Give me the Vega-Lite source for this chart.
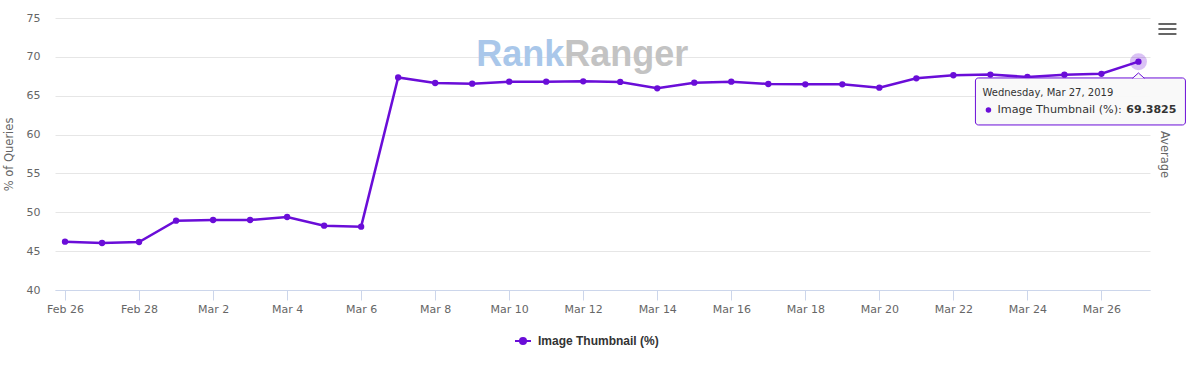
{
  "$schema": "https://vega.github.io/schema/vega-lite/v6.json",
  "width": 1095,
  "height": 272,
  "autosize": {"type": "none"},
  "padding": {"left": 55, "top": 18, "right": 42, "bottom": 78},
  "background": "white",
  "config": {
    "view": {"stroke": null},
    "font": "DejaVu Sans",
    "axisX": {
      "grid": false,
      "domainColor": "#ccd6eb",
      "domainWidth": 1,
      "tickColor": "#ccd6eb",
      "tickSize": 10,
      "labelColor": "#666666",
      "labelFont": "DejaVu Sans",
      "labelFontSize": 11,
      "labelPadding": 3,
      "labelFlush": false,
      "labelOverlap": false
    }
  },
  "datasets": {
    "main": [
      {"date": "2019-02-26T00:00:00", "series": "Image Thumbnail (%)", "value": 46.22},
      {"date": "2019-02-27T00:00:00", "series": "Image Thumbnail (%)", "value": 46.05},
      {"date": "2019-02-28T00:00:00", "series": "Image Thumbnail (%)", "value": 46.18},
      {"date": "2019-03-01T00:00:00", "series": "Image Thumbnail (%)", "value": 48.92},
      {"date": "2019-03-02T00:00:00", "series": "Image Thumbnail (%)", "value": 49.01},
      {"date": "2019-03-03T00:00:00", "series": "Image Thumbnail (%)", "value": 49.01},
      {"date": "2019-03-04T00:00:00", "series": "Image Thumbnail (%)", "value": 49.39},
      {"date": "2019-03-05T00:00:00", "series": "Image Thumbnail (%)", "value": 48.28},
      {"date": "2019-03-06T00:00:00", "series": "Image Thumbnail (%)", "value": 48.15},
      {"date": "2019-03-07T00:00:00", "series": "Image Thumbnail (%)", "value": 67.35},
      {"date": "2019-03-08T00:00:00", "series": "Image Thumbnail (%)", "value": 66.64},
      {"date": "2019-03-09T00:00:00", "series": "Image Thumbnail (%)", "value": 66.55},
      {"date": "2019-03-10T00:00:00", "series": "Image Thumbnail (%)", "value": 66.81},
      {"date": "2019-03-11T00:00:00", "series": "Image Thumbnail (%)", "value": 66.81},
      {"date": "2019-03-12T00:00:00", "series": "Image Thumbnail (%)", "value": 66.85},
      {"date": "2019-03-13T00:00:00", "series": "Image Thumbnail (%)", "value": 66.77},
      {"date": "2019-03-14T00:00:00", "series": "Image Thumbnail (%)", "value": 65.95},
      {"date": "2019-03-15T00:00:00", "series": "Image Thumbnail (%)", "value": 66.68},
      {"date": "2019-03-16T00:00:00", "series": "Image Thumbnail (%)", "value": 66.81},
      {"date": "2019-03-17T00:00:00", "series": "Image Thumbnail (%)", "value": 66.51},
      {"date": "2019-03-18T00:00:00", "series": "Image Thumbnail (%)", "value": 66.47},
      {"date": "2019-03-19T00:00:00", "series": "Image Thumbnail (%)", "value": 66.47},
      {"date": "2019-03-20T00:00:00", "series": "Image Thumbnail (%)", "value": 66.04},
      {"date": "2019-03-21T00:00:00", "series": "Image Thumbnail (%)", "value": 67.24},
      {"date": "2019-03-22T00:00:00", "series": "Image Thumbnail (%)", "value": 67.63},
      {"date": "2019-03-23T00:00:00", "series": "Image Thumbnail (%)", "value": 67.72},
      {"date": "2019-03-24T00:00:00", "series": "Image Thumbnail (%)", "value": 67.41},
      {"date": "2019-03-25T00:00:00", "series": "Image Thumbnail (%)", "value": 67.71},
      {"date": "2019-03-26T00:00:00", "series": "Image Thumbnail (%)", "value": 67.82},
      {"date": "2019-03-27T00:00:00", "series": "Image Thumbnail (%)", "value": 69.3825}
    ],
    "tip": [
      {"date": "2019-03-27T00:00:00", "day": "Wednesday, Mar 27, 2019", "label": "Image Thumbnail (%): ", "value": 69.3825, "valueText": "69.3825"}
    ]
  },
  "layer": [
    {
      "data": {"name": "main"},
      "mark": {"type": "line", "strokeWidth": 2.5, "interpolate": "linear"},
      "encoding": {
        "x": {
          "field": "date", "type": "temporal", "title": null,
          "scale": {"domain": [
            {"year": 2019, "month": 2, "date": 25, "hours": 17, "minutes": 30},
            {"year": 2019, "month": 3, "date": 27, "hours": 7, "minutes": 30}
          ]},
          "axis": {
            "title": null,
            "values": [
              {"year": 2019, "month": 2, "date": 26},
              {"year": 2019, "month": 2, "date": 28},
              {"year": 2019, "month": 3, "date": 2},
              {"year": 2019, "month": 3, "date": 4},
              {"year": 2019, "month": 3, "date": 6},
              {"year": 2019, "month": 3, "date": 8},
              {"year": 2019, "month": 3, "date": 10},
              {"year": 2019, "month": 3, "date": 12},
              {"year": 2019, "month": 3, "date": 14},
              {"year": 2019, "month": 3, "date": 16},
              {"year": 2019, "month": 3, "date": 18},
              {"year": 2019, "month": 3, "date": 20},
              {"year": 2019, "month": 3, "date": 22},
              {"year": 2019, "month": 3, "date": 24},
              {"year": 2019, "month": 3, "date": 26}
            ],
            "format": "%b %-d"
          }
        },
        "y": {
          "field": "value", "type": "quantitative",
          "scale": {"domain": [40, 75], "nice": false, "zero": false},
          "axis": {
            "orient": "left",
            "values": [40, 45, 50, 55, 60, 65, 70, 75],
            "grid": true,
            "gridColor": "#e6e6e6",
            "domain": false,
            "ticks": false,
            "labelColor": "#666666",
            "labelFont": "DejaVu Sans",
            "labelFontSize": 11,
            "labelPadding": 15,
            "title": "% of Queries",
            "titleColor": "#666666",
            "titleFont": "DejaVu Sans",
            "titleFontSize": 11.5,
            "titleFontWeight": "normal",
            "titlePadding": 12
          }
        },
        "color": {
          "field": "series", "type": "nominal",
          "scale": {"range": ["#6a0dd8"]},
          "legend": {
            "orient": "none",
            "legendX": 459,
            "legendY": 314,
            "title": null,
            "symbolType": "M-1,0H1M-0.38,0A0.38,0.38,0,1,1,0.38,0A0.38,0.38,0,1,1,-0.38,0Z",
            "symbolSize": 256,
            "symbolStrokeWidth": 2,
            "symbolFillColor": "#6a0dd8",
            "symbolStrokeColor": "#6a0dd8",
            "symbolOpacity": 1,
            "labelFont": "Liberation Sans",
            "labelFontSize": 12,
            "labelFontWeight": "bold",
            "labelColor": "#333333",
            "labelOffset": 6
          }
        }
      }
    },
    {
      "data": {"name": "tip"},
      "mark": {"type": "point", "filled": true, "size": 290, "color": "#6a0dd8", "opacity": 0.25},
      "encoding": {
        "x": {"field": "date", "type": "temporal", "title": null},
        "y": {"field": "value", "type": "quantitative", "axis": null}
      }
    },
    {
      "data": {"name": "main"},
      "mark": {"type": "point", "filled": true, "size": 40, "color": "#6a0dd8", "opacity": 1},
      "encoding": {
        "x": {"field": "date", "type": "temporal", "title": null},
        "y": {
          "field": "value", "type": "quantitative",
          "axis": {
            "orient": "right",
            "title": "Average",
            "labels": false,
            "ticks": false,
            "domain": false,
            "grid": false,
            "titleColor": "#666666",
            "titleFont": "DejaVu Sans",
            "titleFontSize": 11.5,
            "titleFontWeight": "normal",
            "titlePadding": 8,
            "titleAngle": 90
          }
        }
      }
    },
    {
      "data": {"name": "tip"},
      "mark": {"type": "rect", "fill": "#f9f9f9", "fillOpacity": 0.96, "stroke": "#6a0dd8", "strokeWidth": 1, "cornerRadius": 3, "xOffset": -163, "x2Offset": 47, "yOffset": 16.3, "y2Offset": 63.3},
      "encoding": {
        "x": {"field": "date", "type": "temporal", "title": null},
        "x2": {"field": "date"},
        "y": {"field": "value", "type": "quantitative", "axis": null},
        "y2": {"field": "value"}
      }
    },
    {
      "data": {"name": "tip"},
      "mark": {"type": "point", "shape": "M-1,0.5L0,-0.4L1,0.5", "size": 144, "fill": "#f9f9f9", "fillOpacity": 1, "stroke": "#6a0dd8", "strokeWidth": 1, "opacity": 1, "yOffset": 13.7},
      "encoding": {
        "x": {"field": "date", "type": "temporal", "title": null},
        "y": {"field": "value", "type": "quantitative", "axis": null}
      }
    },
    {
      "data": {"name": "tip"},
      "mark": {"type": "point", "filled": true, "size": 30, "color": "#6a0dd8", "opacity": 1, "xOffset": -150, "yOffset": 48.3},
      "encoding": {
        "x": {"field": "date", "type": "temporal", "title": null},
        "y": {"field": "value", "type": "quantitative", "axis": null}
      }
    },
    {
      "data": {"name": "tip"},
      "mark": {"type": "text", "align": "left", "baseline": "alphabetic", "dx": -156, "dy": 34.3, "fontSize": 10, "font": "DejaVu Sans", "color": "#333333"},
      "encoding": {
        "x": {"field": "date", "type": "temporal", "title": null},
        "y": {"field": "value", "type": "quantitative", "axis": null},
        "text": {"field": "day"}
      }
    },
    {
      "data": {"name": "tip"},
      "mark": {"type": "text", "align": "left", "baseline": "alphabetic", "dx": -141, "dy": 51.6, "fontSize": 11.2, "font": "DejaVu Sans", "color": "#333333"},
      "encoding": {
        "x": {"field": "date", "type": "temporal", "title": null},
        "y": {"field": "value", "type": "quantitative", "axis": null},
        "text": {"field": "label"}
      }
    },
    {
      "data": {"name": "tip"},
      "mark": {"type": "text", "align": "right", "baseline": "alphabetic", "dx": 38, "dy": 51.6, "fontSize": 11, "font": "DejaVu Sans", "fontWeight": "bold", "color": "#333333"},
      "encoding": {
        "x": {"field": "date", "type": "temporal", "title": null},
        "y": {"field": "value", "type": "quantitative", "axis": null},
        "text": {"field": "valueText"}
      }
    },
    {
      "data": {"values": [{}]},
      "mark": {"type": "text", "align": "right", "baseline": "alphabetic", "dx": -19, "fontSize": 36, "font": "Liberation Sans", "fontWeight": "bold", "color": "#a9c7ea"},
      "encoding": {
        "x": {"datum": {"year": 2019, "month": 3, "date": 12}, "type": "temporal", "title": null},
        "y": {"datum": 68.83, "type": "quantitative", "axis": null},
        "text": {"value": "Rank"}
      }
    },
    {
      "data": {"values": [{}]},
      "mark": {"type": "text", "align": "left", "baseline": "alphabetic", "dx": -19, "fontSize": 36, "font": "Liberation Sans", "fontWeight": "bold", "color": "#c3c3c3"},
      "encoding": {
        "x": {"datum": {"year": 2019, "month": 3, "date": 12}, "type": "temporal", "title": null},
        "y": {"datum": 68.83, "type": "quantitative", "axis": null},
        "text": {"value": "Ranger"}
      }
    },
    {
      "data": {"values": [{}]},
      "mark": {"type": "point", "shape": "M-1,-0.55H1M-1,0H1M-1,0.55H1", "size": 324, "filled": false, "stroke": "#666666", "strokeWidth": 2, "opacity": 1, "xOffset": 29, "yOffset": 11},
      "encoding": {
        "x": {"datum": {"year": 2019, "month": 3, "date": 27}, "type": "temporal", "title": null},
        "y": {"datum": 75, "type": "quantitative", "axis": null}
      }
    }
  ],
  "resolve": {"axis": {"y": "independent"}}
}
